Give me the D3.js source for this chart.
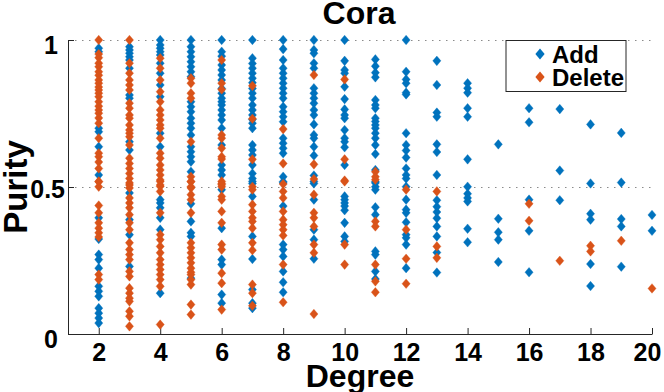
<!DOCTYPE html>
<html>
<head>
<meta charset="utf-8">
<script src="https://cdn.jsdelivr.net/npm/d3@7"></script>
<style>
  html, body { margin: 0; padding: 0; background: #fff; }
  text { font-family: "Liberation Sans", sans-serif; font-weight: bold; fill: #000; }
</style>
</head>
<body>
<div id="chart"></div>
<script>
// purity values, one list per degree
const degrees = [2,3,4,5,6,7,8,9,10,11,12,13,14,15,16,17,18,19,20];
const xTicks = [2,4,6,8,10,12,14,16,18,20];
const yTicks = [0,0.5,1];
const seriesNames = ["Add","Delete"];
const seriesColors = ["#0072BD","#D95319"];

const addPurity = [
  [.972,.96,.7,.688,.637,.541,.395,.323,.27,.253,.224,.162,.145,.128,.088,.071,.054,.037],
  [.977,.966,.955,.943,.932,.904,.813,.802,.654,.626,.48,.389,.338,.23],
  [1,.983,.972,.96,.949,.921,.887,.847,.807,.683,.637,.457,.446,.429,.395,.355,.139],
  [1,.977,.96,.943,.926,.909,.892,.875,.79,.773,.756,.734,.717,.7,.677,.637,.62,.603,.586,.552,.443,.383,.344,.332,.19],
  [1,.96,.945,.915,.898,.881,.864,.835,.819,.802,.79,.779,.762,.745,.728,.7,.643,.575,.558,.541,.491,.36,.253,.236,.134,.105],
  [1,.938,.92,.904,.887,.87,.855,.835,.819,.802,.779,.762,.745,.73,.717,.7,.643,.626,.609,.575,.546,.529,.512,.519,.468,.332,.255,.151,.105,.088],
  [1,.969,.932,.904,.887,.87,.853,.836,.819,.802,.773,.756,.739,.722,.666,.649,.632,.615,.535,.518,.514,.435,.304,.287,.264,.213,.176,.142],
  [1,.966,.955,.921,.904,.836,.819,.802,.785,.762,.745,.713,.677,.666,.637,.607,.539,.512,.519,.457,.355,.321,.256],
  [1,.929,.898,.887,.841,.799,.764,.745,.734,.694,.666,.654,.635,.575,.468,.457,.446,.435,.421,.378,.332,.315],
  [.934,.911,.889,.873,.796,.779,.768,.734,.723,.711,.7,.683,.666,.643,.612,.558,.518,.501,.514,.491,.431,.406,.281,.27,.213,.187],
  [1,.892,.866,.853,.821,.815,.683,.643,.624,.6,.563,.541,.529,.501,.457,.423,.412,.38,.338,.327,.304,.224],
  [.929,.847,.753,.739,.645,.619,.541,.455,.433,.415,.394,.366,.332,.277,.209],
  [.853,.836,.821,.768,.739,.594,.501,.477,.463,.451,.358,.312],
  [.645,.392,.346,.321,.245],
  [.768,.72,.457,.351,.21],
  [.765,.556,.455],
  [.713,.512,.409,.389,.238,.163],
  [.684,.515,.391,.366,.229],
  [.405,.351]
];

const deletePurity = [
  [1,.952,.94,.921,.909,.892,.88,.864,.853,.84,.83,.819,.807,.79,.775,.762,.751,.735,.717,.666,.615,.603,.585,.563,.518,.501,.519,.437,.412,.378,.36,.344,.33,.202,.185],
  [1,.921,.887,.864,.847,.83,.785,.768,.745,.734,.711,.694,.683,.671,.643,.598,.58,.563,.546,.529,.507,.514,.497,.463,.446,.429,.406,.378,.355,.31,.287,.27,.253,.213,.196,.156,.139,.122,.111,.077,.06,.026],
  [.938,.904,.864,.824,.79,.762,.745,.728,.711,.7,.666,.615,.598,.575,.558,.541,.524,.507,.519,.502,.485,.412,.338,.321,.298,.276,.253,.236,.219,.202,.185,.162,.032],
  [.87,.853,.819,.802,.654,.535,.518,.501,.519,.497,.474,.457,.412,.31,.293,.276,.259,.242,.224,.21,.202,.185,.168,.1,.066],
  [.932,.853,.832,.677,.666,.632,.603,.595,.512,.501,.519,.508,.468,.457,.417,.378,.304,.287,.207,.173,.083],
  [.844,.732,.594,.501,.491,.44,.417,.395,.383,.36,.31,.285,.168,.139,.096],
  [.697,.58,.51,.485,.463,.417,.389,.372,.355,.335,.236,.108],
  [.881,.577,.527,.474,.412,.395,.366,.304,.276,.068],
  [.866,.594,.522,.519,.304,.236],
  [.552,.535,.525,.383,.366,.236,.179,.142],
  [.491,.355,.256,.171],
  [.485,.298,.259],
  [],
  [],
  [.443,.385],
  [.249],
  [.3,.281],
  [.317],
  [.155]
];

const width = 664, height = 392;
const margin = {top: 40, right: 12, bottom: 58, left: 68};

const svg = d3.select("#chart").append("svg")
  .attr("width", width)
  .attr("height", height)
  .style("display", "block");

const x = d3.scaleLinear().domain([1, 20]).range([margin.left, width - margin.right]);
const y = d3.scaleLinear().domain([0, 1]).range([height - margin.bottom, margin.top]);

// dotted grid lines
svg.append("g").selectAll("line")
  .data([0.5, 1])
  .join("line")
  .attr("x1", margin.left).attr("x2", width - margin.right)
  .attr("y1", d => y(d) + 0.5).attr("y2", d => y(d) + 0.5)
  .attr("stroke", "#8a8a8a")
  .attr("stroke-width", 1)
  .attr("stroke-dasharray", "1.5 5.5");

// axes, ticks point inwards
const xAxis = svg.append("g")
  .attr("transform", `translate(0,${y(0)})`)
  .call(d3.axisBottom(x).tickValues(xTicks).tickSizeInner(-6).tickSizeOuter(0).tickPadding(9));
const yAxis = svg.append("g")
  .attr("transform", `translate(${margin.left},0)`)
  .call(d3.axisLeft(y).tickValues(yTicks).tickFormat(d3.format("")).tickSizeInner(-6).tickSizeOuter(0).tickPadding(3));

[xAxis, yAxis].forEach(a => {
  a.selectAll("path, line").attr("stroke", "#262626").attr("stroke-width", 1);
  a.selectAll("text").style("font-size", "25px");
});

// the reference nudges some tick labels
xAxis.selectAll("text").attr("dx", d => d === 20 ? -5 : 0);
yAxis.selectAll("text")
  .attr("dx", d => d === 0.5 ? 0 : -7)
  .attr("dy", d => d === 0.5 ? "0.4em" : "0.55em");

// matlab style diamond, a bit wider than d3.symbolDiamond
const diamondType = {
  draw(ctx, size) {
    const r = Math.sqrt(size);
    ctx.moveTo(0, -r);
    ctx.lineTo(r * 0.85, 0);
    ctx.lineTo(0, r);
    ctx.lineTo(-r * 0.85, 0);
    ctx.closePath();
  }
};
const diamond = d3.symbol().type(diamondType).size(23);

[addPurity, deletePurity].forEach((series, s) => {
  const pts = series.flatMap((vals, i) => vals.map(v => ({deg: degrees[i], v: v})));
  svg.append("g").selectAll("path")
    .data(pts)
    .join("path")
    .attr("d", diamond)
    .attr("fill", seriesColors[s])
    .attr("stroke", seriesColors[s])
    .attr("stroke-opacity", 0.35)
    .attr("stroke-width", 1)
    .attr("transform", d => `translate(${x(d.deg)},${y(d.v)})`);
});

// legend
const legend = svg.append("g");
legend.append("rect")
  .attr("x", 506).attr("y", 40.5)
  .attr("width", 120).attr("height", 51)
  .attr("fill", "#fff").attr("stroke", "#262626").attr("stroke-width", 1);
const legendDiamond = d3.symbol().type(diamondType).size(30);
seriesNames.forEach((name, i) => {
  const ly = 54 + i * 23;
  legend.append("path").attr("d", legendDiamond).attr("fill", seriesColors[i])
    .attr("transform", `translate(540,${ly})`);
  legend.append("text").attr("x", 552).attr("y", ly + 8.5).style("font-size", "24px").text(name);
});

// titles
svg.append("text").attr("x", 359).attr("y", 24).attr("text-anchor", "middle").style("font-size", "32px").text("Cora");
svg.append("text").attr("x", 360).attr("y", 387).attr("text-anchor", "middle").style("font-size", "32px").text("Degree");
svg.append("text").attr("transform", "translate(27,187) rotate(-90)").attr("text-anchor", "middle").style("font-size", "33px").text("Purity");
</script>
</body>
</html>
